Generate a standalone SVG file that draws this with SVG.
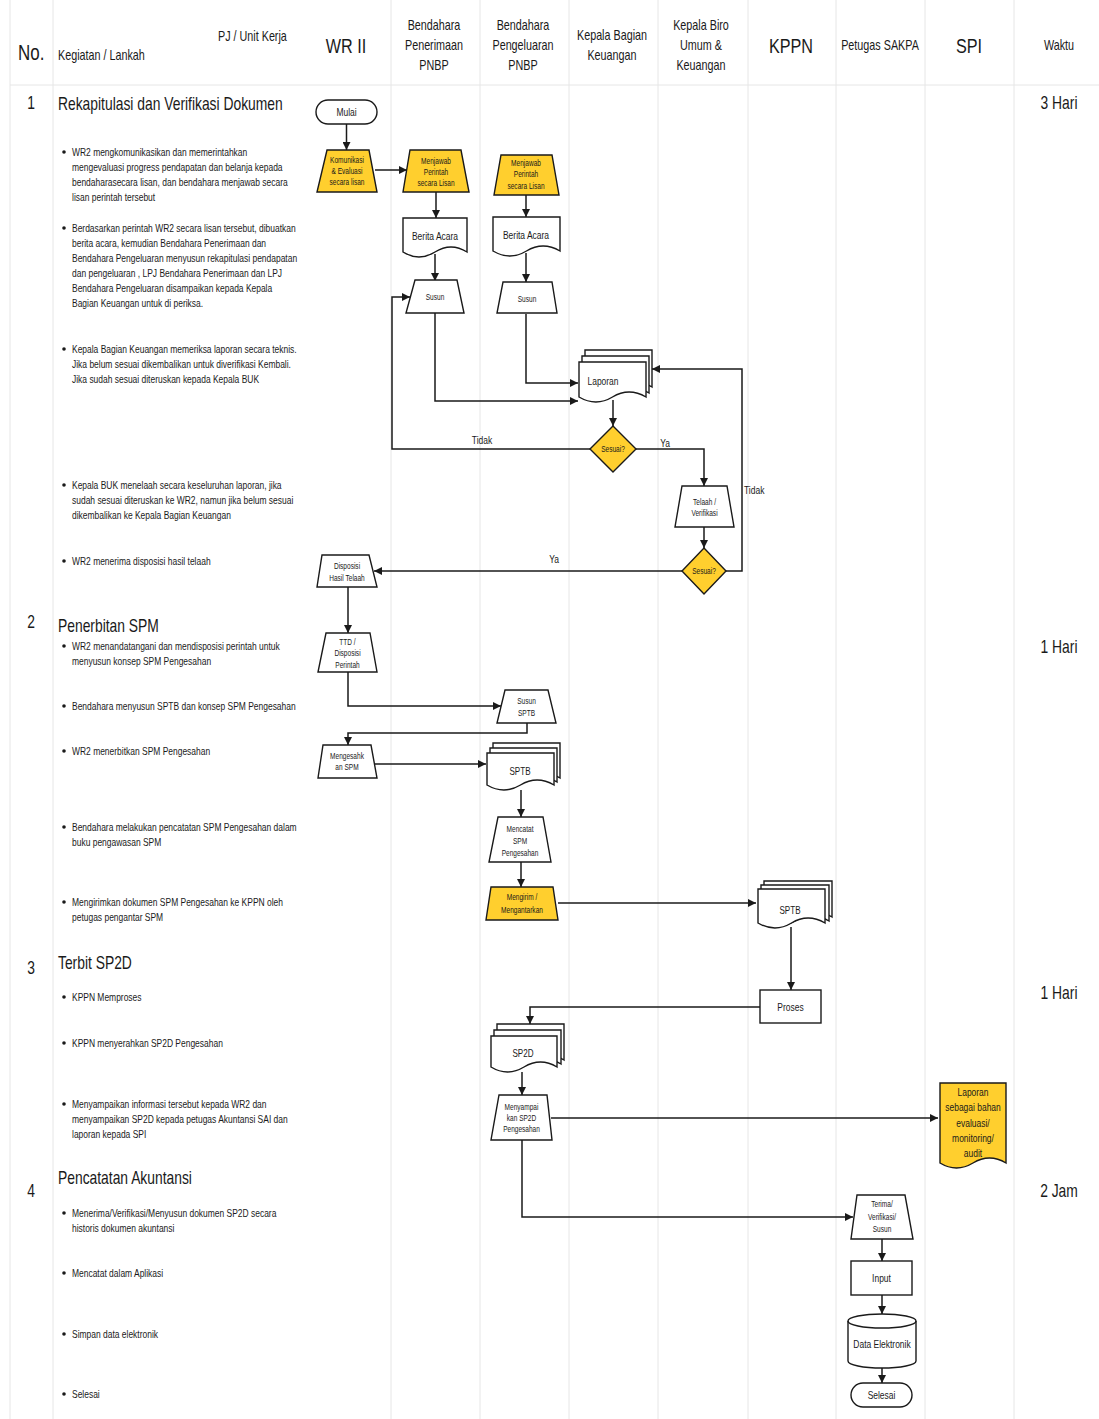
<svg xmlns="http://www.w3.org/2000/svg" width="1099" height="1419" viewBox="0 0 1099 1419">
<defs>
<marker id="a" markerUnits="userSpaceOnUse" markerWidth="8" markerHeight="8" refX="8" refY="4" orient="auto"><path d="M0,0 L8,4 L0,8 z" fill="#1a1a1a"/></marker>
</defs>
<style>
text{font-family:'Liberation Sans',Arial,sans-serif;fill:#1a1a1a}
.lane{stroke:#e6e6e6;stroke-width:1;fill:none}
.n{fill:#fff;stroke:#1a1a1a;stroke-width:1.4}
.y{fill:#FFCF2E;stroke:#1a1a1a;stroke-width:1.4}
.c{fill:none;stroke:#1a1a1a;stroke-width:1.5;marker-end:url(#a)}
.cl{fill:none;stroke:#1a1a1a;stroke-width:1.5}
.h{font-size:14px}
.hb{font-size:21px}
.s{font-size:18px}
.b{font-size:11px}
.m{text-anchor:middle}
.f11{font-size:11px}
.f10{font-size:10.5px}
.f8{font-size:8.5px}
</style>
<rect width="1099" height="1419" fill="#fff"/>
<g id="lanes">
<path class="lane" d="M10,0V1419M53,0V1419M391,0V1419M480,0V1419M569,0V1419M658,0V1419M748,0V1419M836,0V1419M925,0V1419M1014,0V1419M10,85H1099"/>
</g>
<g id="header">
<g transform="translate(18,0) scale(.77,1)"><text y="60" style="font-size:22px">No.</text></g>
<g transform="translate(58,0) scale(.77,1)"><text y="60" class="h">Kegiatan / Lankah</text></g>
<g transform="translate(218,0) scale(.77,1)"><text y="41" class="h">PJ / Unit Kerja</text></g>
<g transform="translate(346,0) scale(.77,1)" class="m"><text y="53" class="hb m">WR II</text></g>
<g transform="translate(434,0) scale(.77,1)"><text y="30" class="h m">Bendahara</text><text y="50" class="h m">Penerimaan</text><text y="70" class="h m">PNBP</text></g>
<g transform="translate(523,0) scale(.77,1)"><text y="30" class="h m">Bendahara</text><text y="50" class="h m">Pengeluaran</text><text y="70" class="h m">PNBP</text></g>
<g transform="translate(612,0) scale(.77,1)"><text y="40" class="h m">Kepala Bagian</text><text y="60" class="h m">Keuangan</text></g>
<g transform="translate(701,0) scale(.77,1)"><text y="30" class="h m">Kepala Biro</text><text y="50" class="h m">Umum &amp;</text><text y="70" class="h m">Keuangan</text></g>
<g transform="translate(791,0) scale(.77,1)"><text y="53" class="hb m">KPPN</text></g>
<g transform="translate(880,0) scale(.77,1)"><text y="50" class="h m">Petugas SAKPA</text></g>
<g transform="translate(969,0) scale(.77,1)"><text y="53" class="hb m">SPI</text></g>
<g transform="translate(1059,0) scale(.77,1)"><text y="50" class="h m">Waktu</text></g>
</g>
<g id="steps">
<g transform="translate(31,0) scale(.77,1)"><text y="109" class="s m">1</text><text y="628" class="s m">2</text><text y="974" class="s m">3</text><text y="1197" class="s m">4</text></g>
<g transform="translate(58,0) scale(.77,1)"><text y="110" class="s">Rekapitulasi dan Verifikasi Dokumen</text><text y="632" class="s">Penerbitan SPM</text><text y="969" class="s">Terbit SP2D</text><text y="1184" class="s">Pencatatan Akuntansi</text></g>
<g fill="#1a1a1a"><circle cx="64" cy="152" r="1.8"/><circle cx="64" cy="228" r="1.8"/><circle cx="64" cy="349" r="1.8"/><circle cx="64" cy="485" r="1.8"/><circle cx="64" cy="561" r="1.8"/><circle cx="64" cy="646" r="1.8"/><circle cx="64" cy="706" r="1.8"/><circle cx="64" cy="751" r="1.8"/><circle cx="64" cy="827" r="1.8"/><circle cx="64" cy="902" r="1.8"/><circle cx="64" cy="997" r="1.8"/><circle cx="64" cy="1043" r="1.8"/><circle cx="64" cy="1104" r="1.8"/><circle cx="64" cy="1213" r="1.8"/><circle cx="64" cy="1273" r="1.8"/><circle cx="64" cy="1334" r="1.8"/><circle cx="64" cy="1394" r="1.8"/></g>
<g transform="translate(72,0) scale(.77,1)" class="b">
<text y="156" class="b">WR2 mengkomunikasikan dan memerintahkan</text>
<text y="171" class="b">mengevaluasi progress pendapatan dan belanja kepada</text>
<text y="186" class="b">bendaharasecara lisan, dan bendahara menjawab secara</text>
<text y="201" class="b">lisan perintah tersebut</text>
<text y="232" class="b">Berdasarkan perintah WR2 secara lisan tersebut, dibuatkan</text>
<text y="247" class="b">berita acara, kemudian Bendahara Penerimaan dan</text>
<text y="262" class="b">Bendahara Pengeluaran menyusun rekapitulasi pendapatan</text>
<text y="277" class="b">dan pengeluaran , LPJ Bendahara Penerimaan dan LPJ</text>
<text y="292" class="b">Bendahara Pengeluaran disampaikan kepada Kepala</text>
<text y="307" class="b">Bagian Keuangan untuk di periksa.</text>
<text y="353" class="b">Kepala Bagian Keuangan memeriksa laporan secara teknis.</text>
<text y="368" class="b">Jika belum sesuai dikembalikan untuk diverifikasi Kembali.</text>
<text y="383" class="b">Jika sudah sesuai diteruskan kepada Kepala BUK</text>
<text y="489" class="b">Kepala BUK menelaah secara keseluruhan laporan, jika</text>
<text y="504" class="b">sudah sesuai diteruskan ke WR2, namun jika belum sesuai</text>
<text y="519" class="b">dikembalikan ke Kepala Bagian Keuangan</text>
<text y="565" class="b">WR2 menerima disposisi hasil telaah</text>
<text y="650" class="b">WR2 menandatangani dan mendisposisi perintah untuk</text>
<text y="665" class="b">menyusun konsep SPM Pengesahan</text>
<text y="710" class="b">Bendahara menyusun SPTB dan konsep SPM Pengesahan</text>
<text y="755" class="b">WR2 menerbitkan SPM Pengesahan</text>
<text y="831" class="b">Bendahara melakukan pencatatan SPM Pengesahan dalam</text>
<text y="846" class="b">buku pengawasan SPM</text>
<text y="906" class="b">Mengirimkan dokumen SPM Pengesahan ke KPPN oleh</text>
<text y="921" class="b">petugas pengantar SPM</text>
<text y="1001" class="b">KPPN Memproses</text>
<text y="1047" class="b">KPPN menyerahkan SP2D Pengesahan</text>
<text y="1108" class="b">Menyampaikan informasi tersebut kepada WR2 dan</text>
<text y="1123" class="b">menyampaikan SP2D kepada petugas Akuntansi SAI dan</text>
<text y="1138" class="b">laporan kepada SPI</text>
<text y="1217" class="b">Menerima/Verifikasi/Menyusun dokumen SP2D secara</text>
<text y="1232" class="b">historis dokumen akuntansi</text>
<text y="1277" class="b">Mencatat dalam Aplikasi</text>
<text y="1338" class="b">Simpan data elektronik</text>
<text y="1398" class="b">Selesai</text>
</g>
</g>
<g id="waktu" transform="translate(1059,0) scale(.77,1)">
<text y="109" class="s m">3 Hari</text><text y="653" class="s m">1 Hari</text><text y="999" class="s m">1 Hari</text><text y="1197" class="s m">2 Jam</text>
</g>
<g id="connectors">
<path class="c" d="M346.5,124V150"/>
<path class="c" d="M375,170H407"/>
<path class="c" d="M436,192V218"/>
<path class="c" d="M435,254V281"/>
<path class="c" d="M526,195V217"/>
<path class="c" d="M526,253V282"/>
<path class="c" d="M435,313V401H578"/>
<path class="c" d="M526,314V383H578"/>
<path class="c" d="M613,400V426"/>
<path class="c" d="M590,449H392V297H410"/>
<path class="c" d="M636,449H704V486"/>
<path class="c" d="M704,527V548"/>
<path class="c" d="M726,571H742V369H652"/>
<path class="c" d="M682,571H374"/>
<path class="c" d="M348,587V633"/>
<path class="c" d="M348,672V706H501"/>
<path class="c" d="M527,723V733H348V745"/>
<path class="c" d="M375,764H486"/>
<path class="c" d="M521,790V817"/>
<path class="c" d="M521,862V887"/>
<path class="c" d="M558,903H756"/>
<path class="c" d="M791,927V990"/>
<path class="c" d="M760,1007H530V1024"/>
<path class="c" d="M522,1072V1095"/>
<path class="c" d="M551,1118H938"/>
<path class="c" d="M522,1140V1217H853"/>
<path class="c" d="M882,1239V1261"/>
<path class="c" d="M882,1295V1314"/>
<path class="c" d="M882,1368V1383"/>
<g transform="translate(482,0) scale(.77,1)"><text y="444" class="f11 m">Tidak</text></g>
<g transform="translate(665,0) scale(.77,1)"><text y="447" class="f11 m">Ya</text></g>
<g transform="translate(744,0) scale(.77,1)"><text y="494" class="f11">Tidak</text></g>
<g transform="translate(554,0) scale(.77,1)"><text y="563" class="f11 m">Ya</text></g>
</g>
<g id="mulai"><rect class="n" x="316" y="100" width="61" height="24" rx="12"/><g transform="translate(346.5,0) scale(.77,1)"><text y="116" class="f11 m">Mulai</text></g></g>
<g id="komunikasi"><polygon class="y" points="327,150 369,150 377,192 317,192"/><g transform="translate(347,0) scale(.77,1)" class="f8"><text y="163" class="f8 m">Komunikasi</text><text y="174" class="f8 m">&amp; Evaluasi</text><text y="185" class="f8 m">secara lisan</text></g></g>
<g id="menjawab1"><polygon class="y" points="410,150 461,150 469,192 403,192"/><g transform="translate(436,0) scale(.77,1)"><text y="164" class="f8 m">Menjawab</text><text y="175" class="f8 m">Perintah</text><text y="186" class="f8 m">secara Lisan</text></g></g>
<g id="menjawab2"><polygon class="y" points="501,155 552,155 559,195 494,195"/><g transform="translate(526,0) scale(.77,1)"><text y="166" class="f8 m">Menjawab</text><text y="177" class="f8 m">Perintah</text><text y="189" class="f8 m">secara Lisan</text></g></g>
<g id="berita1"><path class="n" d="M403,218H467V252Q451,242 435,252T403,252Z"/><g transform="translate(435,0) scale(.77,1)"><text y="240" class="f11 m">Berita Acara</text></g></g>
<g id="berita2"><path class="n" d="M493,217H560V251Q543,241 526.5,251T493,251Z"/><g transform="translate(526,0) scale(.77,1)"><text y="239" class="f11 m">Berita Acara</text></g></g>
<g id="susun1"><polygon class="n" points="415,280 457,280 464,313 406,313"/><g transform="translate(435,0) scale(.77,1)"><text y="300" class="f8 m">Susun</text></g></g>
<g id="susun2"><polygon class="n" points="503,282 552,282 557,313 497,313"/><g transform="translate(527,0) scale(.77,1)"><text y="302" class="f8 m">Susun</text></g></g>
<g id="laporan">
<path class="n" d="M585,350H652V387Q635,377 618.5,387T585,387Z"/>
<path class="n" d="M582,356H649V393Q632,383 615.5,393T582,393Z"/>
<path class="n" d="M579,362H646V397Q629,387 612.5,397T579,397Z"/>
<g transform="translate(603,0) scale(.77,1)"><text y="385" class="f11 m">Laporan</text></g></g>
<g id="sesuai1"><polygon class="y" points="613,426 636,449 613,472 590,449"/><g transform="translate(613,0) scale(.77,1)"><text y="452" class="f8 m">Sesuai?</text></g></g>
<g id="telaah"><polygon class="n" points="682,486 727,486 734,527 675,527"/><g transform="translate(704.5,0) scale(.77,1)"><text y="505" class="f8 m">Telaah /</text><text y="516" class="f8 m">Verifikasi</text></g></g>
<g id="sesuai2"><polygon class="y" points="704,548 726,571 704,594 682,571"/><g transform="translate(704,0) scale(.77,1)"><text y="574" class="f8 m">Sesuai?</text></g></g>
<g id="disposisi"><polygon class="n" points="322,555 369,555 377,587 317,587"/><g transform="translate(347,0) scale(.77,1)"><text y="569" class="f8 m">Disposisi</text><text y="581" class="f8 m">Hasil Telaah</text></g></g>
<g id="ttd"><polygon class="n" points="326,633 370,633 377,672 318,672"/><g transform="translate(347.5,0) scale(.77,1)"><text y="645" class="f8 m">TTD /</text><text y="656" class="f8 m">Disposisi</text><text y="668" class="f8 m">Perintah</text></g></g>
<g id="susunsptb"><polygon class="n" points="505,690 548,690 556,723 497,723"/><g transform="translate(526.5,0) scale(.77,1)"><text y="704" class="f8 m">Susun</text><text y="716" class="f8 m">SPTB</text></g></g>
<g id="mengesahkan"><polygon class="n" points="323,745 371,745 377,778 318,778"/><g transform="translate(347,0) scale(.77,1)"><text y="759" class="f8 m">Mengesahk</text><text y="770" class="f8 m">an SPM</text></g></g>
<g id="sptb1">
<path class="n" d="M493,743H560V778Q543,768 526.5,778T493,778Z"/>
<path class="n" d="M490,748H557V782Q540,772 523.5,782T490,782Z"/>
<path class="n" d="M487,753H554V785Q537,775 520.5,785T487,785Z"/>
<g transform="translate(520,0) scale(.77,1)"><text y="775" class="f10 m">SPTB</text></g></g>
<g id="mencatat"><polygon class="n" points="498,817 543,817 551,862 489,862"/><g transform="translate(520,0) scale(.77,1)"><text y="832" class="f8 m">Mencatat</text><text y="844" class="f8 m">SPM</text><text y="856" class="f8 m">Pengesahan</text></g></g>
<g id="mengirim"><polygon class="y" points="491,887 553,887 558,920 486,920"/><g transform="translate(522,0) scale(.77,1)"><text y="900" class="f8 m">Mengirim /</text><text y="913" class="f8 m">Mengantarkan</text></g></g>
<g id="sptb2">
<path class="n" d="M764,881H832V917Q815,907 798,917T764,917Z"/>
<path class="n" d="M761,885H829V921Q812,911 795,921T761,921Z"/>
<path class="n" d="M758,889H825V923Q808,913 791.5,923T758,923Z"/>
<g transform="translate(790,0) scale(.77,1)"><text y="914" class="f10 m">SPTB</text></g></g>
<g id="proses"><rect class="n" x="760" y="990" width="61" height="33"/><g transform="translate(790.5,0) scale(.77,1)"><text y="1011" class="f11 m">Proses</text></g></g>
<g id="sp2d">
<path class="n" d="M497,1024H564V1060Q547,1050 530.5,1060T497,1060Z"/>
<path class="n" d="M494,1030H561V1064Q544,1054 527.5,1064T494,1064Z"/>
<path class="n" d="M491,1036H557V1067Q540.5,1057 524,1067T491,1067Z"/>
<g transform="translate(523,0) scale(.77,1)"><text y="1057" class="f10 m">SP2D</text></g></g>
<g id="menyampaikan"><polygon class="n" points="499,1095 547,1095 552,1140 491,1140"/><g transform="translate(521.5,0) scale(.77,1)"><text y="1110" class="f8 m">Menyampai</text><text y="1121" class="f8 m">kan SP2D</text><text y="1132" class="f8 m">Pengesahan</text></g></g>
<g id="laporanspi"><path class="y" d="M940,1083H1006V1163Q989.5,1153 973,1163T940,1163Z"/><g transform="translate(973,0) scale(.77,1)"><text y="1096" class="f11 m">Laporan</text><text y="1111" class="f11 m">sebagai bahan</text><text y="1127" class="f11 m">evaluasi/</text><text y="1142" class="f11 m">monitoring/</text><text y="1157" class="f11 m">audit</text></g></g>
<g id="terima"><polygon class="n" points="857,1195 905,1195 913,1239 851,1239"/><g transform="translate(882,0) scale(.77,1)"><text y="1207" class="f8 m">Terima/</text><text y="1220" class="f8 m">Verifikasi/</text><text y="1232" class="f8 m">Susun</text></g></g>
<g id="input"><rect class="n" x="851" y="1261" width="61" height="34"/><g transform="translate(881.5,0) scale(.77,1)"><text y="1282" class="f11 m">Input</text></g></g>
<g id="data"><path class="n" d="M848,1321A34,7 0 0 1 916,1321V1361A34,7 0 0 1 848,1361Z"/><path class="cl" d="M848,1321A34,7 0 0 0 916,1321" style="stroke-width:1.4"/><g transform="translate(882,0) scale(.77,1)"><text y="1348" class="f11 m">Data Elektronik</text></g></g>
<g id="selesai"><rect class="n" x="851" y="1383" width="61" height="24" rx="12"/><g transform="translate(881.5,0) scale(.77,1)"><text y="1399" class="f11 m">Selesai</text></g></g>
</svg>
